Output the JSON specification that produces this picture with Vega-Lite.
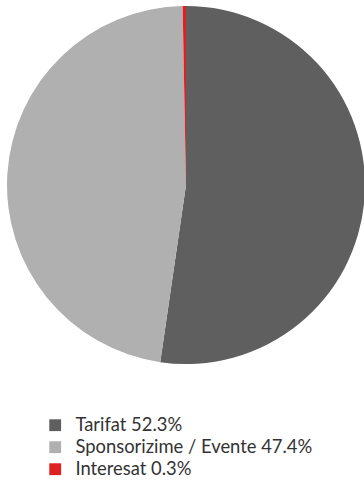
{
  "$schema": "https://vega.github.io/schema/vega-lite/v6.json",
  "width": 372,
  "height": 370,
  "autosize": "none",
  "padding": {"left": 0, "top": 0, "right": 0, "bottom": 114},
  "background": "white",
  "config": {"view": {"stroke": null}, "font": "Lato"},
  "data": {
    "values": [
      {"label": "Tarifat 52.3%", "value": 52.3, "order": 1},
      {"label": "Sponsorizime / Evente 47.4%", "value": 47.4, "order": 2},
      {"label": "Interesat 0.3%", "value": 0.3, "order": 3}
    ]
  },
  "mark": {"type": "arc", "outerRadius": 179},
  "encoding": {
    "theta": {"field": "value", "type": "quantitative", "stack": true},
    "order": {"field": "order", "type": "quantitative"},
    "color": {
      "field": "label",
      "type": "nominal",
      "scale": {
        "domain": ["Tarifat 52.3%", "Sponsorizime / Evente 47.4%", "Interesat 0.3%"],
        "range": ["#5f5f5f", "#b0b0b0", "#e02020"]
      },
      "legend": {
        "title": null,
        "orient": "none",
        "legendX": 46,
        "legendY": 416,
        "symbolType": "square",
        "symbolSize": 140,
        "symbolStrokeWidth": 0,
        "labelFontSize": 18.4,
        "labelColor": "#333333",
        "labelFont": "Lato",
        "labelOffset": 11,
        "rowPadding": 3,
        "labelLimit": 400
      }
    }
  }
}
